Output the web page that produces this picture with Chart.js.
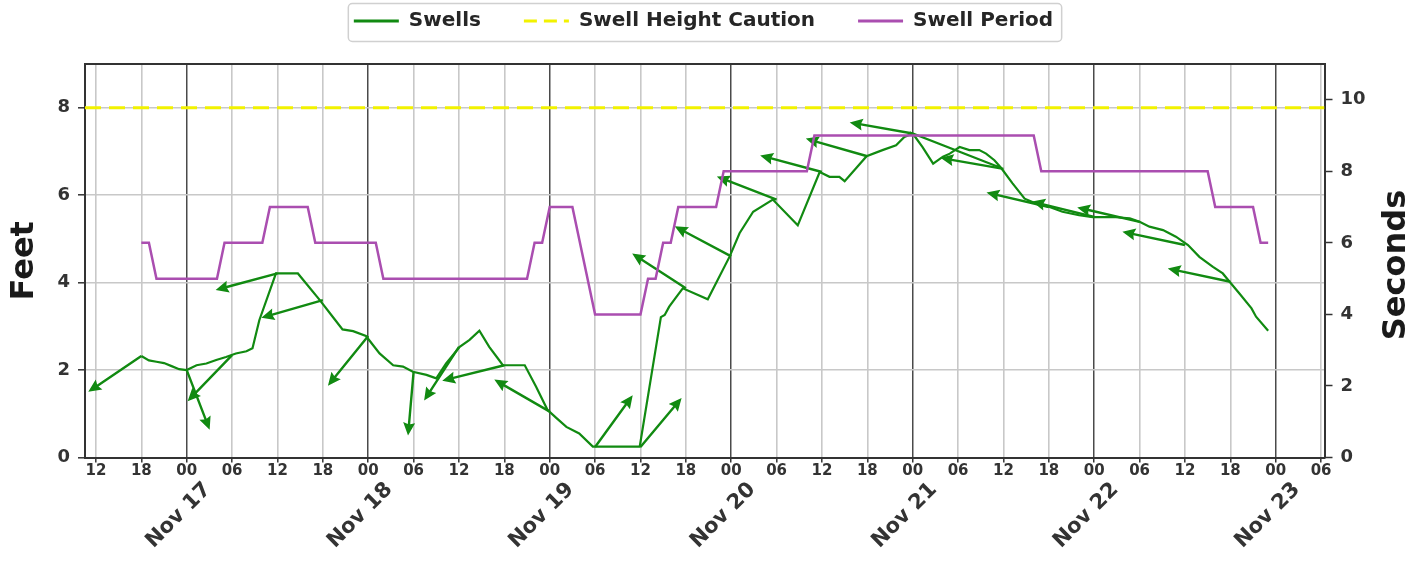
<!DOCTYPE html>
<html><head><meta charset="utf-8">
<script src="https://cdn.jsdelivr.net/npm/chart.js@4"></script>
<style>html,body{margin:0;padding:0;background:#fff;}#wrap{width:1426px;height:563px;}</style>
</head><body><div id="wrap"><canvas id="c" width="1426" height="563"></canvas></div>
<script>
// ---- data (hours are counted from Nov 16 00:00) ----
// the swell trace as drawn: it jumps straight from Nov 21 00 to Nov 21 ~12 and back before the hourly wiggle
const swellHours = [18,19,20,21,22,23,24,25.3,26.6,27.9,29.2,30.5,31.9,32.7,33.6,35.8,38.7,41.6,43.3,44.6,46.0,47.7,49.5,51.3,52.6,53.9,55.7,57.0,58.3,60.1,61.4,62.7,64.0,65.3,65.8,68.7,70.2,71.7,72.9,74.2,75.9,77.7,83.9,86.7,87.2,87.8,88.9,89.6,92.9,95.8,97.1,98.9,101.5,104.8,107.7,109.0,110.3,111.0,113.9,116.0,117.8,118.9,120.0,131.7,120.0,121.3,122.7,124.0,124.9,126.2,127.5,128.8,129.7,130.8,131.7,133.2,134.8,136.3,138.1,139.8,142.0,143.8,146.5,148.7,150.0,151.3,153.1,154.8,156.4,157.9,159.7,161.0,161.9,163.2,164.8,165.4,167];
const swellFeet  = [2.32,2.22,2.19,2.16,2.09,2.02,2.0,2.11,2.15,2.23,2.3,2.38,2.43,2.5,3.14,4.21,4.21,3.6,3.22,2.93,2.89,2.78,2.38,2.11,2.08,1.96,1.89,1.81,2.15,2.53,2.69,2.9,2.53,2.23,2.11,2.11,1.62,1.09,0.9,0.7,0.55,0.25,0.25,3.21,3.26,3.45,3.71,3.87,3.62,4.6,5.13,5.62,5.9,5.31,6.53,6.42,6.42,6.32,6.89,7.03,7.14,7.33,7.41,6.62,7.41,7.1,6.72,6.88,6.95,7.1,7.03,7.03,6.95,6.8,6.62,6.27,5.92,5.81,5.73,5.62,5.54,5.5,5.5,5.47,5.39,5.28,5.2,5.05,4.86,4.59,4.36,4.21,4.02,3.75,3.41,3.22,2.9];

const periodHours   = [18,19,20,28,29,34,35,40,41,49,50,69,70,71,72,75,78,84,85,86,87,88,89,94,95,106,107,136,137,159,160,165,166,167];
const periodSeconds = [6,6,5,5,6,6,7,7,6,6,5,5,6,6,7,7,4,4,5,5,6,6,7,7,8,8,9,9,8,8,7,7,6,6];

const arrowHours  = [18,24,30,36,42,48,54,60,66,72,78,84,90,96,102,108,114,120,132,138,144,150,156,162];
const arrowFeet   = [2.32,2.0,2.34,4.21,3.6,2.78,1.96,2.53,2.11,1.05,0.24,0.24,3.87,4.6,5.9,6.53,6.89,7.41,6.6,5.73,5.5,5.39,4.86,4.02];
const arrowDirDeg = [236,159,224,255,254,219,185,213,256,300,36,40,303,298,291,285,286,280,280,283,284,283,282,282];

const cautionFeet = 8;
const hourTickLabels = ['00','06','12','18'];
const dayTickLabels  = ['Nov 17','Nov 18','Nov 19','Nov 20','Nov 21','Nov 22','Nov 23'];
const xMin = 10.55, xMax = 174.45;

// ---- styles ----
const GREEN = '#118a11', YELLOW = '#f2f200', PURPLE = '#aa4eb0';
const TXT = '#333333';
Chart.defaults.font.family = "'DejaVu Sans', sans-serif";
Chart.defaults.font.weight = 'bold';
Chart.defaults.color = TXT;

const arrowPlugin = {
  id: 'swellArrows',
  beforeDatasetsDraw(chart) {
    const {ctx, chartArea: a, scales: {x, y}} = chart;
    ctx.save();
    ctx.beginPath(); ctx.rect(a.left, a.top, a.right - a.left, a.bottom - a.top); ctx.clip();
    ctx.fillStyle = GREEN;
    const L = 64, hl = 13, hal = 11.5, hw = 6, sw = 1.2;
    arrowHours.forEach((h, i) => {
      const px = x.getPixelForValue(h), py = y.getPixelForValue(arrowFeet[i]);
      const ang = arrowDirDeg[i] * Math.PI / 180;
      const ux = Math.sin(ang), uy = -Math.cos(ang);
      const nx = -uy, ny = ux;
      const tx = px + ux * L, ty = py + uy * L;
      const bx = px + ux * (L - hl), by = py + uy * (L - hl);
      const kx = px + ux * (L - hal), ky = py + uy * (L - hal);
      ctx.beginPath();
      ctx.moveTo(px + nx * sw, py + ny * sw);
      ctx.lineTo(kx + nx * sw, ky + ny * sw);
      ctx.lineTo(bx + nx * hw, by + ny * hw);
      ctx.lineTo(tx, ty);
      ctx.lineTo(bx - nx * hw, by - ny * hw);
      ctx.lineTo(kx - nx * sw, ky - ny * sw);
      ctx.lineTo(px - nx * sw, py - ny * sw);
      ctx.closePath();
      ctx.fill();
    });
    ctx.restore();
  }
};

const framePlugin = {
  id: 'legendFrameAndRightTitle',
  beforeDraw(chart) {
    const lg = chart.legend, hb = lg && lg.legendHitBoxes;
    if (!hb || !hb.length) return;
    const ctx = chart.ctx;
    const l = hb[0].left - 6, r = hb[hb.length - 1].left + hb[hb.length - 1].width + 8;
    const t = hb[0].top - 8, b = hb[0].top + hb[0].height + 10;
    ctx.save();
    ctx.beginPath();
    ctx.roundRect(l + 0.5, t + 0.5, r - l, b - t, 4);
    ctx.fillStyle = '#fff'; ctx.fill();
    ctx.strokeStyle = '#d0d0d0'; ctx.lineWidth = 1.5; ctx.stroke();
    ctx.restore();
  },
  afterDraw(chart) {
    const ctx = chart.ctx;
    ctx.save();
    ctx.translate(1397, 265);
    ctx.rotate(-Math.PI / 2);
    ctx.font = "bold 32px 'DejaVu Sans', sans-serif";
    ctx.fillStyle = '#1a1a1a';
    ctx.textAlign = 'center'; ctx.textBaseline = 'middle';
    ctx.fillText('Seconds', 0, 0);
    ctx.restore();
  }
};

new Chart(document.getElementById('c'), {
  type: 'line',
  data: {
    datasets: [
      { label: 'Swells', data: swellHours.map((h, i) => ({x: h, y: swellFeet[i]})),
        borderColor: GREEN, backgroundColor: GREEN, borderWidth: 2.2, pointRadius: 0, tension: 0, yAxisID: 'y', xAxisID: 'x', order: 0 },
      { label: 'Swell Height Caution', data: [{x: xMin, y: cautionFeet}, {x: xMax, y: cautionFeet}],
        borderColor: YELLOW, backgroundColor: YELLOW, borderWidth: 3, borderDash: [16, 8], pointRadius: 0, yAxisID: 'y', xAxisID: 'x', order: 0 },
      { label: 'Swell Period', data: periodHours.map((h, i) => ({x: h, y: periodSeconds[i]})),
        borderColor: PURPLE, backgroundColor: PURPLE, borderWidth: 2.5, pointRadius: 0, tension: 0, yAxisID: 'y2', xAxisID: 'x', order: -1 }
    ]
  },
  options: {
    responsive: false, animation: false, events: [],
    layout: { padding: { top: -32, left: 0, right: 19, bottom: 0 } },
    plugins: {
      legend: {
        position: 'top',
        labels: { usePointStyle: true, pointStyle: 'line', pointStyleWidth: 45, padding: 43,
                  font: { size: 20, weight: 'bold' }, color: '#262626',
                  sort: (a, b) => a.datasetIndex - b.datasetIndex,
                  generateLabels: chart => {
                    const items = Chart.defaults.plugins.legend.labels.generateLabels(chart);
                    items.forEach(it => {
                      const ds = chart.data.datasets[it.datasetIndex];
                      it.lineDash = ds.borderDash ? [13, 7] : [];
                      it.lineWidth = 3;
                      it.strokeStyle = ds.borderColor;
                    });
                    return items;
                  } }
      },
      tooltip: { enabled: false }
    },
    scales: {
      x: {
        type: 'linear', position: 'bottom', min: xMin, max: xMax, weight: 0,
        afterFit: s => { s.height = 22; },
        ticks: { stepSize: 6, includeBounds: false, autoSkip: false, minRotation: 0, maxRotation: 0, padding: 1,
                 font: { size: 15, weight: 'bold', lineHeight: 1 }, color: TXT,
                 callback: v => hourTickLabels[(((v % 24) + 24) % 24) / 6] },
        grid: { color: c => (c.tick && c.tick.value % 24 === 0) ? '#4a4a4a' : '#c8c8c8',
                lineWidth: c => (c.tick && c.tick.value % 24 === 0) ? 1.5 : 1.6,
                tickColor: '#333', tickLength: 5, tickWidth: 1.5 },
        border: { display: true, color: '#333', width: 2 }
      },
      x2: {
        type: 'linear', position: 'bottom', min: xMin, max: xMax, weight: 1,
        afterFit: s => { s.height = 83.5; },
        ticks: { stepSize: 24, includeBounds: false, autoSkip: false, minRotation: 45, maxRotation: 45, labelOffset: 21, padding: -2,
                 font: { size: 21, weight: 'bold' }, color: TXT,
                 callback: v => dayTickLabels[v / 24 - 1] || '' },
        grid: { display: false, drawOnChartArea: false, drawTicks: false },
        border: { display: false }
      },
      xTop: {
        type: 'linear', position: 'top', min: xMin, max: xMax,
        afterFit: s => { s.height = 23; },
        ticks: { display: false },
        grid: { display: false, drawTicks: false },
        border: { display: true, color: '#333', width: 2 }
      },
      y: {
        position: 'left', min: 0, max: 9,
        afterFit: s => { s.width = 85; },
        ticks: { stepSize: 2, includeBounds: false, padding: 8, font: { size: 18, weight: 'bold' }, color: TXT },
        grid: { color: '#c8c8c8', lineWidth: 1.6, tickColor: '#333', tickLength: 7, tickWidth: 1.5 },
        border: { color: '#333', width: 2 },
        title: { display: true, text: 'Feet', font: { size: 32, weight: 'bold' }, color: '#1a1a1a', padding: { top: 5, bottom: 0 } }
      },
      y2: {
        position: 'right', min: 0, max: 11,
        afterFit: s => { s.width = 82.5; },
        ticks: { stepSize: 2, includeBounds: false, padding: 8, font: { size: 18, weight: 'bold' }, color: TXT },
        grid: { drawOnChartArea: false, tickColor: '#333', tickLength: 8, tickWidth: 1.5 },
        border: { color: '#333', width: 2 }
      }
    }
  },
  plugins: [arrowPlugin, framePlugin]
});
</script>
</body></html>
